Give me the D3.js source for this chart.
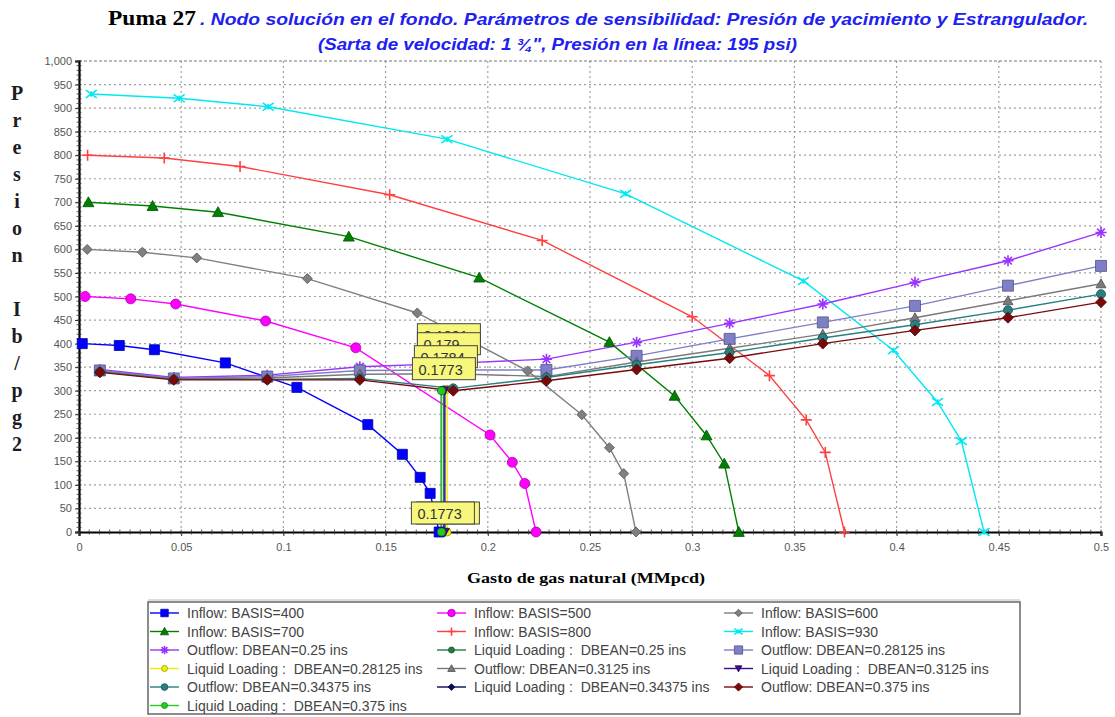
<!DOCTYPE html>
<html>
<head>
<meta charset="utf-8">
<script src="https://cdn.jsdelivr.net/npm/d3@7"></script>
<style>
  body { margin: 0; background: #fff; }
  svg { display: block; }
  .leg text { white-space: pre; }
</style>
</head>
<body>
<script>
// ---- data: [gasto MMpcd, presion psi] ----
const inflow400 = [[0.0016,400],[0.0197,396],[0.0369,387],[0.0716,359],[0.1066,307],[0.1413,228],[0.1582,165],[0.1669,116],[0.1718,82],[0.1762,0]];
const inflow500 = [[0.003,500],[0.0253,495],[0.0473,484],[0.0913,448],[0.1354,391],[0.2011,206],[0.212,148],[0.2181,103],[0.2236,0]];
const inflow600 = [[0.004,600],[0.031,594],[0.0576,582],[0.1117,538],[0.1655,465],[0.2195,342],[0.246,249],[0.2595,179],[0.2665,124],[0.2725,0]];
const inflow700 = [[0.0046,700],[0.036,692],[0.068,679],[0.132,627],[0.1958,540],[0.2595,403],[0.2914,289],[0.307,205],[0.3157,145],[0.3228,0]];
const inflow800 = [[0.0042,800],[0.0417,794],[0.0788,776],[0.152,716],[0.2266,619],[0.3,457],[0.3378,332],[0.3558,238],[0.3651,169],[0.3745,0]];
const inflow930 = [[0.006,930],[0.049,921],[0.0926,903],[0.18,834],[0.2674,718],[0.3544,533],[0.3984,386],[0.42,276],[0.4317,193],[0.4428,0]];

// outflow curves share the same rates
const outflowQ    = [0.0102,0.0464,0.0921,0.1374,0.1831,0.2287,0.2728,0.3183,0.3639,0.409,0.4545,0.5];
const outflow025  = [345,328,333,351,358,367,403,443,484,530,576,636];
const outflow028  = [343,326,330,343,344,344,374,410,445,480,523,565];
const outflow031  = [341,325,327,335,336,330,361,390,420,455,491,527];
const outflow034  = [340,324,324,326,305,328,355,381,412,440,471,505];
const outflow0375 = [339,323,323,323,300,321,345,369,400,428,455,488];

// liquid loading: vertical line from the node down to zero
const llQ   = [0.1784, 0.1801, 0.179, 0.1773, 0.1773];
const llTop = [302, 303, 301, 300, 300];

const stackLabels = ["0.1801", "0.179", "0.1784", "0.1773"];
const bottomLabel = "0.1773";

const xTicks = [0, 0.05, 0.1, 0.15, 0.2, 0.25, 0.3, 0.35, 0.4, 0.45, 0.5];
const yTicks = [0,50,100,150,200,250,300,350,400,450,500,550,600,650,700,750,800,850,900,950,1000];

// ---- layout ----
const svgWidth = 1115, svgHeight = 717;
const svg = d3.select('body').append('svg')
  .attr('width', svgWidth).attr('height', svgHeight);

const xScale = d3.scaleLinear().domain([0, 0.5]).range([79, 1101]);
const yScale = d3.scaleLinear().domain([0, 1000]).range([532, 61]);

const zip = (q, p) => q.map((d, i) => [d, p[i]]);

// style per series, in legend order
const series = [
  {name: "Inflow: BASIS=400", data: inflow400, color: "#0000ff", marker: "square", size: 10},
  {name: "Inflow: BASIS=500", data: inflow500, color: "#ff00ff", marker: "circle", size: 10},
  {name: "Inflow: BASIS=600", data: inflow600, color: "#808080", marker: "diamond", size: 10},
  {name: "Inflow: BASIS=700", data: inflow700, color: "#008000", marker: "triangle", size: 11},
  {name: "Inflow: BASIS=800", data: inflow800, color: "#ff4040", marker: "plus", size: 11},
  {name: "Inflow: BASIS=930", data: inflow930, color: "#00e8f0", marker: "x", size: 11},
  {name: "Outflow: DBEAN=0.25 ins", data: zip(outflowQ, outflow025), color: "#9933ff", marker: "star", size: 11},
  {name: "Liquid Loading :  DBEAN=0.25 ins", data: [[llQ[0], llTop[0]], [llQ[0], 0]], color: "#1f7f3f", marker: "circle", size: 8},
  {name: "Outflow: DBEAN=0.28125 ins", data: zip(outflowQ, outflow028), color: "#7f7fc8", marker: "square", size: 11},
  {name: "Liquid Loading :  DBEAN=0.28125 ins", data: [[llQ[1], llTop[1]], [llQ[1], 0]], color: "#f0f000", marker: "circle", size: 8},
  {name: "Outflow: DBEAN=0.3125 ins", data: zip(outflowQ, outflow031), color: "#7a7a7a", marker: "triangle", size: 10},
  {name: "Liquid Loading :  DBEAN=0.3125 ins", data: [[llQ[2], llTop[2]], [llQ[2], 0]], color: "#3c0a8c", marker: "triangleDown", size: 9},
  {name: "Outflow: DBEAN=0.34375 ins", data: zip(outflowQ, outflow034), color: "#2a7f7f", marker: "circle", size: 9},
  {name: "Liquid Loading :  DBEAN=0.34375 ins", data: [[llQ[3], llTop[3]], [llQ[3], 0]], color: "#0a0a5a", marker: "diamond", size: 9},
  {name: "Outflow: DBEAN=0.375 ins", data: zip(outflowQ, outflow0375), color: "#7a0a0a", marker: "diamond", size: 11},
  {name: "Liquid Loading :  DBEAN=0.375 ins", data: [[llQ[4], llTop[4]], [llQ[4], 0]], color: "#22cc22", marker: "circle", size: 8}
];

const strokeMarkers = ["plus", "x", "star"];
function markerPath(type, s) {
  const h = s / 2;
  switch (type) {
    case "square": return `M${-h},${-h}h${s}v${s}h${-s}Z`;
    case "circle": return d3.symbol(d3.symbolCircle, Math.PI * h * h)();
    case "diamond": return `M0,${-h}L${h},0L0,${h}L${-h},0Z`;
    case "triangle": return `M0,${-h}L${h},${h * 0.8}L${-h},${h * 0.8}Z`;
    case "triangleDown": return `M0,${h}L${h},${-h * 0.8}L${-h},${-h * 0.8}Z`;
    case "plus": return `M${-h},0H${h}M0,${-h}V${h}`;
    case "x": return `M${-h},${-h * 0.7}L${h},${h * 0.7}M${-h},${h * 0.7}L${h},${-h * 0.7}M0,${-h * 0.5}V${h * 0.5}`;
    case "star": {
      const k = h * 0.7;
      return `M${-h},0H${h}M0,${-h}V${h}M${-k},${-k}L${k},${k}M${-k},${k}L${k},${-k}`;
    }
  }
}
function drawMarker(sel, s, scaleBy) {
  const stroked = strokeMarkers.includes(s.marker);
  sel.attr('d', markerPath(s.marker, s.size * scaleBy))
    .attr('fill', stroked ? 'none' : s.color)
    .attr('stroke', stroked ? s.color : d3.color(s.color).darker(1.2))
    .attr('stroke-width', stroked ? 1.6 : 0.8);
}

// ---- grid ----
const grid = svg.append('g');
grid.selectAll('line.gx').data(xTicks.filter(d => d > 0)).enter().append('line')
  .attr('x1', d => xScale(d)).attr('x2', d => xScale(d))
  .attr('y1', yScale(1000)).attr('y2', yScale(0))
  .attr('stroke', '#a0a0a0').attr('stroke-width', 1.2).attr('stroke-dasharray', '2,3');
grid.selectAll('line.gy').data(yTicks.filter(d => d > 0)).enter().append('line')
  .attr('x1', xScale(0)).attr('x2', xScale(0.5))
  .attr('y1', d => yScale(d)).attr('y2', d => yScale(d))
  .attr('stroke', d => d === 1000 ? '#777' : '#a0a0a0').attr('stroke-width', 1.2)
  .attr('stroke-dasharray', d => d === 1000 ? '3,2' : '2,3');

// ---- axes ----
const yAxis = d3.axisLeft(yScale).tickValues(yTicks).tickFormat(d3.format(',')).tickSize(4).tickPadding(3);
const yG = svg.append('g').attr('transform', `translate(${xScale(0)},0)`).call(yAxis);
const xAxis = d3.axisBottom(xScale).tickValues(xTicks).tickFormat(d => String(d)).tickSize(4).tickPadding(7);
const xG = svg.append('g').attr('transform', `translate(0,${yScale(0)})`).call(xAxis);
[yG, xG].forEach(g => {
  g.select('.domain').attr('stroke', '#000').attr('stroke-width', 2.2);
  g.selectAll('.tick line').attr('stroke', '#333');
  g.selectAll('text').attr('font-family', 'Liberation Sans, Arial, sans-serif')
    .attr('font-size', 11).attr('fill', '#555');
});
// minor ticks along both axes
svg.append('g').selectAll('line').data(d3.range(0, 1001, 10)).enter().append('line')
  .attr('x1', xScale(0) - 2.5).attr('x2', xScale(0) + 2.5)
  .attr('y1', d => yScale(d)).attr('y2', d => yScale(d))
  .attr('stroke', '#333').attr('stroke-width', 0.8);
svg.append('g').selectAll('line').data(d3.range(0, 0.5001, 0.005)).enter().append('line')
  .attr('y1', yScale(0) - 2.5).attr('y2', yScale(0) + 2.5)
  .attr('x1', d => xScale(d)).attr('x2', d => xScale(d))
  .attr('stroke', '#333').attr('stroke-width', 0.8);

// ---- curves ----
const createLine = d3.line().x(d => xScale(d[0])).y(d => yScale(d[1]));
const plotG = svg.append('g');
series.forEach(s => {
  plotG.append('path')
    .attr('d', createLine(s.data))
    .attr('fill', 'none')
    .attr('stroke', s.color)
    .attr('stroke-width', 1.4);
});
series.forEach(s => {
  plotG.selectAll(null).data(s.data).enter().append('path')
    .attr('transform', d => `translate(${xScale(d[0])},${yScale(d[1])})`)
    .call(drawMarker, s, 1);
});

// ---- solution labels (stacked tooltips, each one partly covers the one behind) ----
const px = xScale(llQ[4]), py = yScale(llTop[4]);
const stackPos = [[-24, -67], [-24, -58], [-27, -45], [-29, -33]];
const labG = svg.append('g');
function yellowBox(x0, y0, txt, w) {
  labG.append('rect').attr('x', x0).attr('y', y0).attr('width', w).attr('height', 22)
    .attr('fill', '#f7f77c').attr('stroke', '#444').attr('stroke-width', 1);
  labG.append('text').attr('x', x0 + 6).attr('y', y0 + 17)
    .attr('font-family', 'Liberation Sans, Arial, sans-serif').attr('font-size', 14.5)
    .attr('fill', '#333').text(txt);
}
stackLabels.forEach((t, i) => yellowBox(px + stackPos[i][0], py + stackPos[i][1], t, 63));
yellowBox(px - 25, yScale(0) - 30, bottomLabel, 63);
yellowBox(px - 30, yScale(0) - 30, bottomLabel, 63);

// ---- titles ----
svg.append('text').attr('x', 108).attr('y', 25)
  .attr('font-family', 'Liberation Serif, Times New Roman, serif').attr('font-weight', 'bold')
  .attr('font-size', 22).attr('fill', '#000')
  .attr('textLength', 88).attr('lengthAdjust', 'spacingAndGlyphs').text('Puma 27');
svg.append('text').attr('x', 200).attr('y', 25)
  .attr('font-family', 'Liberation Sans, Arial, sans-serif').attr('font-weight', 'bold')
  .attr('font-style', 'italic').attr('font-size', 17).attr('fill', '#2020f0')
  .attr('textLength', 888).attr('lengthAdjust', 'spacingAndGlyphs')
  .text(' . Nodo solución en el fondo. Parámetros de sensibilidad: Presión de yacimiento y Estrangulador.');
svg.append('text').attr('x', 318).attr('y', 50)
  .attr('font-family', 'Liberation Sans, Arial, sans-serif').attr('font-weight', 'bold')
  .attr('font-style', 'italic').attr('font-size', 17).attr('fill', '#2020f0')
  .attr('textLength', 479).attr('lengthAdjust', 'spacingAndGlyphs')
  .text('(Sarta de velocidad: 1 ¾", Presión en la línea: 195 psi)');

// x axis title
svg.append('text').attr('x', 467).attr('y', 583)
  .attr('font-family', 'Liberation Serif, Times New Roman, serif').attr('font-weight', 'bold')
  .attr('font-size', 14).attr('fill', '#000')
  .attr('textLength', 238).attr('lengthAdjust', 'spacingAndGlyphs').text('Gasto de gas natural (MMpcd)');

// y axis title, one letter per row
const yTitle = ["P","r","e","s","i","o","n","","I","b","/","p","g","2"];
svg.append('g').selectAll('text').data(yTitle).enter().append('text')
  .attr('x', 17).attr('y', (d, i) => 100 + i * 27).attr('text-anchor', 'middle')
  .attr('font-family', 'Liberation Serif, Times New Roman, serif').attr('font-weight', 'bold')
  .attr('font-size', 20).attr('fill', '#1c1c24').text(d => d);

// ---- legend ----
const legG = svg.append('g').attr('class', 'leg');
legG.append('rect').attr('x', 148).attr('y', 602).attr('width', 872).attr('height', 112)
  .attr('fill', '#fff').attr('stroke', '#666').attr('stroke-width', 1.5);
legG.append('line').attr('x1', 148).attr('x2', 1020).attr('y1', 600).attr('y2', 600)
  .attr('stroke', '#bbb').attr('stroke-width', 1);
const colX = [150, 437, 724];
series.forEach((s, i) => {
  const cx = colX[i % 3], cy = 613 + Math.floor(i / 3) * 18.5;
  legG.append('line').attr('x1', cx).attr('x2', cx + 29).attr('y1', cy).attr('y2', cy)
    .attr('stroke', s.color).attr('stroke-width', 1.4);
  legG.append('path').attr('transform', `translate(${cx + 14.5},${cy})`).call(drawMarker, s, 0.75);
  legG.append('text').attr('x', cx + 37).attr('y', cy + 5)
    .attr('font-family', 'Liberation Sans, Arial, sans-serif').attr('font-size', 14)
    .attr('fill', '#444').text(s.name);
});
</script>
</body>
</html>
